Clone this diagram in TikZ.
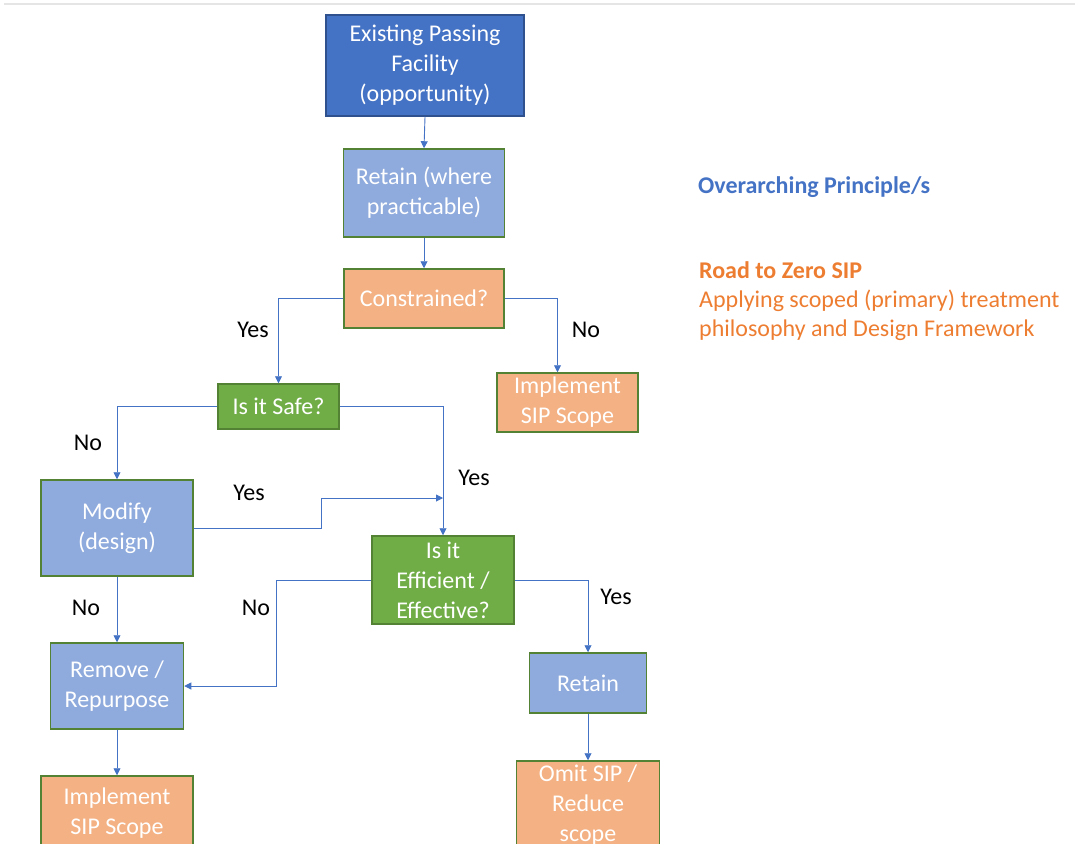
\documentclass[tikz,border=0pt]{standalone}
\usepackage{fontspec}
\setmainfont{Carlito}
\usetikzlibrary{arrows.meta}
\definecolor{dblue}{HTML}{4472C4}
\definecolor{dblueborder}{HTML}{2F528F}
\definecolor{lblue}{HTML}{8FAADC}
\definecolor{lorange}{HTML}{F4B183}
\definecolor{lgreen}{HTML}{70AD47}
\definecolor{bgreen}{HTML}{548235}
\definecolor{torange}{HTML}{ED7D31}
\begin{document}
\begin{tikzpicture}[x=1pt,y=-1pt,
  box/.style={draw=bgreen, line width=1.5pt, text=white, align=center, inner sep=0pt,
    font=\fontsize{24}{30}\selectfont},
  conn/.style={draw=dblue, line width=0.9pt, -{Triangle[length=7pt,width=7pt]}},
  lbl/.style={font=\fontsize{24}{28}\selectfont, text=black, inner sep=0pt},
  side/.style={anchor=west, inner sep=0pt, font=\fontsize{24}{28}\selectfont}]
\useasboundingbox (0,0) rectangle (1075,843);
\clip (0,0) rectangle (1075,843);
\draw[line width=2pt, color=black!10] (4,4) -- (1075,4);

\node[box, fill=dblue, draw=dblueborder, minimum width=198, minimum height=101] (exist) at (425,65.5) {Existing Passing\\Facility\\(opportunity)};
\node[box, fill=lblue, minimum width=161, minimum height=88] (ret1) at (424,193) {Retain (where\\practicable)};
\node[box, fill=lorange, minimum width=160, minimum height=59] (cons) at (424,298.5) {Constrained?};
\node[box, fill=lgreen, minimum width=121, minimum height=45] (safe) at (278.5,406.5) {Is it Safe?};
\node[box, fill=lorange, minimum width=141, minimum height=59] (impl1) at (567.5,402.5) {Implement\\SIP Scope};
\node[box, fill=lblue, minimum width=152, minimum height=96] (modify) at (117,528) {Modify\\(design)};
\node[box, fill=lgreen, minimum width=142, minimum height=88] (eff) at (443,580) {Is it\\Efficient /\\Effective?};
\node[box, fill=lblue, minimum width=133, minimum height=86] (remove) at (117,686) {Remove /\\Repurpose};
\node[box, fill=lblue, minimum width=117, minimum height=60] (retain2) at (588,683) {Retain};
\node[box, fill=lorange, minimum width=152, minimum height=74] (impl2) at (117,813) {Implement\\SIP Scope};
\node[box, fill=lorange, minimum width=143, minimum height=88] (omit) at (588,805) {Omit SIP /\\Reduce\\scope};

\coordinate (yesin) at (443,498);

\draw[conn] (exist.south) -- (ret1.north);
\draw[conn] (ret1.south) -- (cons.north);
\draw[conn] (cons.west) -| (safe.north);
\draw[conn] (cons.east) -| ([xshift=-10pt]impl1.north);
\draw[conn] (safe.west) -| (modify.north);
\draw[conn] (safe.east) -| (eff.north);
\draw[conn] (modify.east) -- ++(128,0) |- (yesin);
\draw[conn] (modify.south) -- (remove.north);
\draw[conn] (eff.west) -- ++(-95,0) |- (remove.east);
\draw[conn] (eff.east) -| (retain2.north);
\draw[conn] (retain2.south) -- (omit.north);
\draw[conn] (remove.south) -- (impl2.north);

\node[lbl] (l1) at (253,330) {Yes};
\node[lbl] (l2) at (586,330) {No};
\node[lbl] (l3) at (88,443) {No};
\node[lbl] (l4) at (474,478) {Yes};
\node[lbl] (l5) at (249,493) {Yes};
\node[lbl] (l6) at (86,608) {No};
\node[lbl] (l7) at (256,608) {No};
\node[lbl] (l8) at (616,597) {Yes};

\node[side, text=dblue, font=\fontsize{24}{28}\selectfont\bfseries] (op) at (698,187) {Overarching Principle/s};
\node[side, text=torange, font=\fontsize{24}{28}\selectfont\bfseries] (rz) at (699,270) {Road to Zero SIP};
\node[side, text=torange] (ap1) at (699,301) {Applying scoped (primary) treatment};
\node[side, text=torange] (ap2) at (699,330) {philosophy and Design Framework};
\end{tikzpicture}
\end{document}
